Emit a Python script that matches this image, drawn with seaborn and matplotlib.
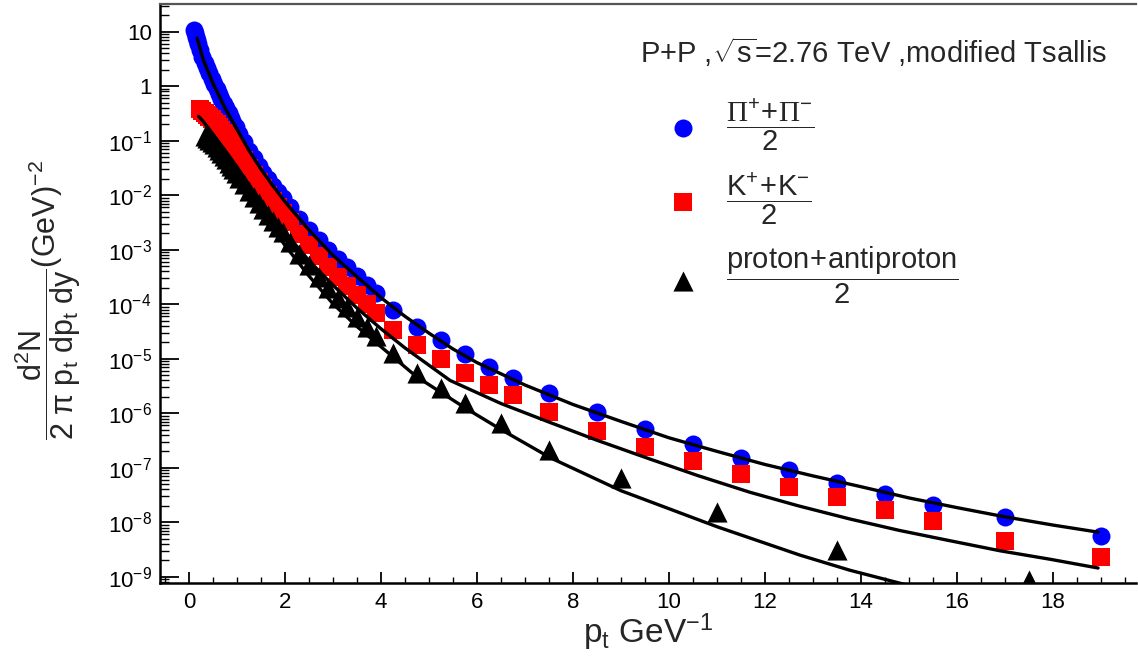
import numpy as np
import pandas as pd
import seaborn as sns
import matplotlib
matplotlib.use("Agg")
import matplotlib.pyplot as plt
from matplotlib.ticker import MultipleLocator, LogLocator, NullFormatter

# pion (pi+ + pi-)/2
pt_pi = [0.11, 0.13, 0.15, 0.17, 0.19, 0.225, 0.275, 0.325, 0.375, 0.425, 0.475, 0.525,
         0.575, 0.625, 0.675, 0.725, 0.775, 0.825, 0.875, 0.925, 0.975, 1.05, 1.15, 1.25,
         1.35, 1.45, 1.55, 1.65, 1.75, 1.85, 1.95, 2.1, 2.3, 2.5, 2.7, 2.9, 3.1, 3.3, 3.5,
         3.7, 3.9, 4.25, 4.75, 5.25, 5.75, 6.25, 6.75, 7.5, 8.5, 9.5, 10.5, 11.5, 12.5,
         13.5, 14.5, 15.5, 17, 19]
y_pi = [10.7, 9.3, 8.1, 7.0, 6.0, 4.6, 3.5, 2.7, 2.2, 1.74, 1.38, 1.12,
        0.89, 0.72, 0.59, 0.48, 0.39, 0.32, 0.26, 0.21, 0.178, 0.135, 0.093, 0.066,
        0.048, 0.035, 0.026, 0.020, 0.015, 0.0115, 0.0089, 0.0060, 0.0037, 0.0023, 0.0015, 0.0010, 6.9e-4, 4.8e-4, 3.3e-4,
        2.3e-4, 1.6e-4, 7.8e-5, 3.8e-5, 2.2e-5, 1.23e-5, 7.1e-6, 4.5e-6, 2.35e-6, 1.05e-6, 5.1e-7, 2.7e-7, 1.5e-7, 9.1e-8,
        5.2e-8, 3.3e-8, 2.1e-8, 1.26e-8, 5.6e-9]

# kaon (K+ + K-)/2
pt_k = [0.225, 0.275, 0.325, 0.375, 0.425, 0.475, 0.525, 0.575, 0.625, 0.675, 0.725, 0.775,
        0.825, 0.875, 0.925, 0.975, 1.05, 1.15, 1.25, 1.35, 1.45, 1.55, 1.65, 1.75, 1.85,
        1.95, 2.1, 2.3, 2.5, 2.7, 2.9, 3.1, 3.3, 3.5, 3.7, 3.9, 4.25, 4.75, 5.25, 5.75,
        6.25, 6.75, 7.5, 8.5, 9.5, 10.5, 11.5, 12.5, 13.5, 14.5, 15.5, 17, 19]
y_k = [0.38, 0.355, 0.32, 0.295, 0.27, 0.245, 0.224, 0.20, 0.178, 0.158, 0.141, 0.123,
       0.107, 0.095, 0.083, 0.074, 0.060, 0.044, 0.032, 0.0234, 0.0178, 0.0135, 0.0102, 0.0079, 0.0062,
       0.0048, 0.0032, 0.00195, 0.0012, 7.6e-4, 4.9e-4, 3.2e-4, 2.2e-4, 1.48e-4, 1.0e-4, 6.9e-5, 3.4e-5, 1.8e-5, 9.8e-6, 5.5e-6,
       3.3e-6, 2.15e-6, 1.05e-6, 4.7e-7, 2.4e-7, 1.33e-7, 7.6e-8, 4.4e-8, 2.9e-8, 1.66e-8, 1.04e-8, 4.5e-9, 2.3e-9]

# proton (p + pbar)/2
pt_p = [0.325, 0.375, 0.425, 0.475, 0.525, 0.575, 0.625, 0.675, 0.725, 0.775, 0.825, 0.875,
        0.925, 0.975, 1.05, 1.15, 1.25, 1.35, 1.45, 1.55, 1.65, 1.75, 1.85, 1.95, 2.1, 2.3,
        2.5, 2.7, 2.9, 3.1, 3.3, 3.5, 3.7, 3.9, 4.25, 4.75, 5.25, 5.75, 6.5, 7.5, 9.0, 11.0,
        13.5, 17.5]
y_p = [0.124, 0.113, 0.103, 0.094, 0.086, 0.077, 0.068, 0.060, 0.052, 0.0455, 0.039, 0.034,
       0.030, 0.026, 0.021, 0.016, 0.0121, 0.0092, 0.0072, 0.0056, 0.0043, 0.0034, 0.0026, 0.0021, 0.00138, 8.3e-4,
       5.2e-4, 3.15e-4, 1.95e-4, 1.32e-4, 8.9e-5, 5.9e-5, 3.9e-5, 2.6e-5, 1.26e-5, 5.5e-6, 2.9e-6, 1.54e-6, 6.6e-7, 2.1e-7, 6.5e-8, 1.55e-8,
       3.1e-9, 8.7e-10]

# modified Tsallis fit curves
fit_pt_pi = [0.17, 0.3, 0.5, 0.75, 1.0, 1.25, 1.5, 1.75, 2.0, 2.5, 3.0, 3.5, 4.0, 4.5, 5.0,
             5.5, 6.0, 7.0, 8.0, 9.0, 10.0, 11.0, 12.0, 13.0, 14.0, 15.0, 16.0, 17.0, 18.0, 18.94]
fit_pi = [7.6, 3.0, 1.12, 0.40, 0.162, 0.066, 0.030, 0.0148, 0.0076, 0.0023, 7.9e-4, 3.2e-4, 1.32e-4, 6.0e-5, 2.95e-5,
          1.51e-5, 8.5e-6, 3.3e-6, 1.45e-6, 7.1e-7, 3.55e-7, 2.0e-7, 1.15e-7, 7.1e-8, 4.5e-8, 2.8e-8, 1.86e-8, 1.26e-8, 8.9e-9, 6.6e-9]

fit_pt_k = [0.2, 0.3, 0.5, 0.75, 1.0, 1.5, 2.0, 2.5, 3.0, 3.5, 4.0, 4.5, 5.44, 6.5, 7.5, 8.5,
            9.6, 10.6, 11.69, 12.7, 13.77, 14.8, 15.85, 16.9, 17.94, 18.94]
fit_k = [0.28, 0.224, 0.132, 0.066, 0.033, 0.0074, 0.0021, 6.3e-4, 2.24e-4, 8.5e-5, 3.55e-5, 1.58e-5, 4.0e-6, 1.51e-6, 6.9e-7, 3.2e-7,
         1.45e-7, 7.2e-8, 3.55e-8, 2.0e-8, 1.15e-8, 7.1e-9, 4.6e-9, 3.0e-9, 2.1e-9, 1.45e-9]

fit_pt_p = [0.3, 0.5, 0.75, 1.0, 1.5, 2.0, 2.5, 3.0, 3.5, 4.0, 4.74, 5.75, 6.49, 7.54, 9.0,
            11.0, 12.73, 13.77, 14.95]
fit_p = [0.115, 0.078, 0.043, 0.0215, 0.0049, 1.2e-3, 3.3e-4, 1.02e-4, 3.9e-5, 1.66e-5, 4.7e-6, 1.26e-6, 5.1e-7, 1.51e-7, 3.8e-8,
         8.3e-9, 2.5e-9, 1.32e-9, 7.1e-10]

sns.set_style("ticks")
plt.rcParams['font.family'] = ['Liberation Sans', 'DejaVu Sans']
plt.rcParams['mathtext.fontset'] = 'custom'
plt.rcParams['mathtext.rm'] = 'Liberation Sans'
plt.rcParams['mathtext.it'] = 'Liberation Sans'
plt.rcParams['mathtext.sf'] = 'Liberation Serif'

W, H = 1138, 668
fig = plt.figure(figsize=(W / 100, H / 100), dpi=100)
ax = fig.add_axes([160 / W, 1 - 582.7 / H, (1136 - 160) / W, (582.7 - 4) / H])

sns.scatterplot(x=pt_pi, y=y_pi, marker='o', color='#0000ff', s=168, linewidth=0, ax=ax,
                label=r'$\dfrac{\mathsf{\Pi}^{+}\!+\!\mathsf{\Pi}^{-}}{2}$', zorder=3)
sns.scatterplot(x=pt_k, y=y_k, marker='s', color='#ff0000', s=168, linewidth=0, ax=ax,
                label=r'$\dfrac{\mathrm{K^{+}\!+\!K^{-}}}{2}$', zorder=4)
sns.scatterplot(x=pt_p, y=y_p, marker='^', color='black', s=210, linewidth=0, ax=ax,
                label=r'$\dfrac{\mathrm{proton\!+\!antiproton}}{2}$', zorder=5)

for fx, fy in [(fit_pt_pi, fit_pi), (fit_pt_k, fit_k), (fit_pt_p, fit_p)]:
    sns.lineplot(x=fx, y=fy, color='black', linewidth=2.4, sort=False, estimator=None,
                 ax=ax, zorder=6, legend=False)

ax.set_yscale('log')
ax.set_xlim(-0.604, 19.73)
ax.set_ylim(7.8e-10, 32.2)

ax.xaxis.set_minor_locator(MultipleLocator(0.5))
ax.set_xticks(range(0, 19, 2))
ax.set_xticklabels([str(v) for v in range(0, 19, 2)])

yt = [10.0 ** e for e in range(-9, 2)]
ylab = [r'$10^{-%d}$' % (-e) for e in range(-9, 0)] + ['1', '10']
ax.set_yticks(yt)
ax.set_yticklabels(ylab)
ax.yaxis.set_minor_locator(LogLocator(base=10, subs=np.arange(2, 10), numticks=30))
ax.yaxis.set_minor_formatter(NullFormatter())

ax.tick_params(axis='both', which='both', direction='in', colors='black', labelsize=16)
ax.tick_params(axis='y', which='major', length=14, width=1.3, pad=6)
ax.tick_params(axis='y', which='minor', length=6.5, width=1.0)
ax.tick_params(axis='x', which='major', length=8, width=1.3, pad=7)
ax.tick_params(axis='x', which='minor', length=4, width=1.0)

for s in ['left', 'bottom']:
    ax.spines[s].set_linewidth(1.8)
    ax.spines[s].set_color('black')
ax.spines['right'].set_visible(False)
ax.spines['top'].set_color('#555555')
ax.spines['top'].set_linewidth(1.6)

leg = ax.legend(loc='upper left', bbox_to_anchor=(671 / W, 1 - 96 / H), bbox_transform=fig.transFigure,
                frameon=False, fontsize=21, handlelength=0.8, handletextpad=1.1,
                labelspacing=0.6, borderpad=0, borderaxespad=0)

fig.text(640 / W, 1 - 52 / H, r'P+P ,$\sqrt{s}$=2.76 TeV ,modified Tsallis',
         fontsize=21, ha='left', va='center')

fig.text(48 / W, 1 - 300 / H,
         r'$\dfrac{\mathrm{d^{2}N}}{\mathrm{2\ \pi\ p_{t}\ dp_{t}\ dy}}\mathrm{(GeV)^{-2}}$',
         fontsize=22, rotation=90, ha='center', va='center')
fig.text(648 / W, 1 - 632 / H, r'$\mathrm{p_{t}\ GeV^{-1}}$', fontsize=24, ha='center', va='center')

fig.savefig('out.png', dpi=100)
